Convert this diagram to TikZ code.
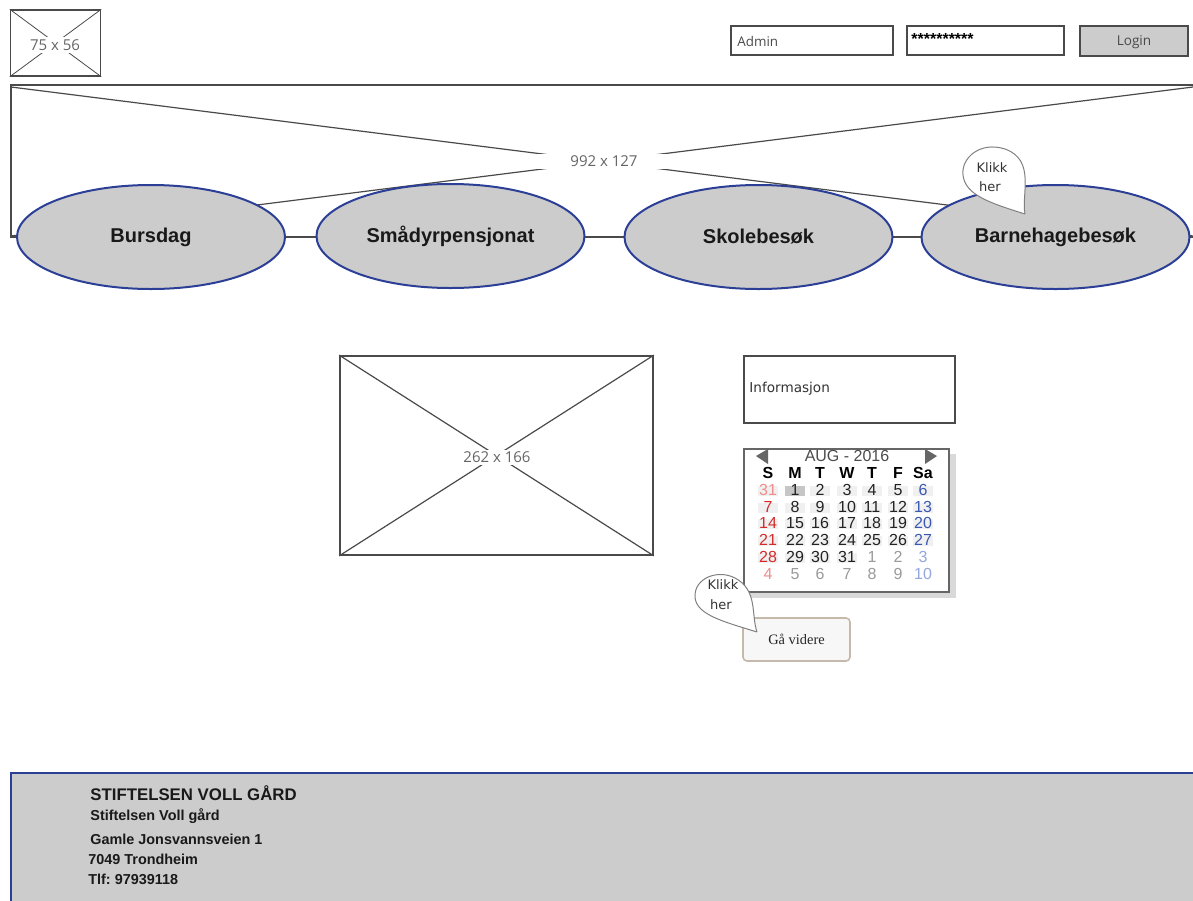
\documentclass[tikz,border=0pt]{standalone}
\usepackage{fontspec}
\setmainfont{Liberation Sans}
\newfontfamily\uifont{Open Sans}
\newfontfamily\handfont{DejaVu Sans}
\newfontfamily\serfont{Liberation Serif}
\usetikzlibrary{shapes.geometric}

\definecolor{wire}{HTML}{4A4A4A}
\definecolor{panel}{HTML}{CCCCCC}
\definecolor{navy}{HTML}{2B3F96}
\definecolor{caltext}{HTML}{222222}
\definecolor{calred}{HTML}{D42A2A}
\definecolor{calpink}{HTML}{EF8C8C}
\definecolor{calblue}{HTML}{3A58B0}
\definecolor{calpale}{HTML}{93A8DE}
\definecolor{calgray}{HTML}{9A9A9A}
\definecolor{btnedge}{HTML}{C4B9AA}

\newcommand\fsz[1]{\fontsize{#1}{#1}\selectfont}
\frenchspacing

\begin{document}
\begin{tikzpicture}[x=0.5pt,y=-0.5pt,
  box/.style={draw=wire, line width=0.7pt, fill=white, inner sep=0pt},
  ph/.style={font=\uifont\fsz{7.5}, text=wire!85, fill=white, inner sep=1pt},
  oval/.style={ellipse, draw=navy, line width=1pt, fill=panel, inner sep=0pt,
    minimum width=134pt, minimum height=52pt, font=\bfseries\fsz{10}, text=black!90},
  bubble/.style={draw=wire!70, line width=0.5pt, fill=white},
  hand/.style={font=\handfont\fsz{6.5}, text=black!80, inner sep=0pt},
  day/.style={font=\fsz{8}, inner sep=0pt},
  dayhead/.style={font=\bfseries\fsz{8}, text=black, inner sep=0pt},
  foot/.style={anchor=west, inner sep=0pt, font=\bfseries\fsz{7.2}, text=black!90},
  cellbg/.style={fill=gray!12}
]
\useasboundingbox (0,0) rectangle (1193,900);

% ---- header: logo and login ----
\node[box, minimum width=45pt, minimum height=33pt] (logo) at (55.5,43) {};
\draw[wire] (logo.north west) -- (logo.south east);
\draw[wire] (logo.south west) -- (logo.north east);
\node[ph] (logotxt) at (55,45) {75 x 56};

\node[box, minimum width=81pt, minimum height=14.5pt] (user) at (812,40.5) {};
\node[anchor=west, inner sep=0pt, font=\uifont\fsz{6.7}, text=wire] (usertxt) at (737,41) {Admin};
\node[box, minimum width=78.5pt, minimum height=14.5pt] (pass) at (985.5,40.5) {};
\node[anchor=west, inner sep=0pt, font=\bfseries\fsz{8}, text=black] (passtxt) at (911,39) {**********};
\node[box, fill=panel, minimum width=54pt, minimum height=15pt] (login) at (1134,41) {};
\node[inner sep=0pt, font=\uifont\fsz{6.8}, text=wire] (logintxt) at (1134,42.5) {Login};

% ---- banner placeholder ----
\draw[wire, line width=0.7pt] (11,85) rectangle (1210,237);
\draw[wire, line width=0.6pt] (11,87) -- (1193,236);
\draw[wire, line width=0.6pt] (11,236) -- (1193,87);
\node[ph, inner xsep=18pt] (bannertxt) at (604,161) {992 x 127};

% ---- menu ovals ----
\node[oval] (bursdag) at (151,237) {Bursdag};
\node[oval] (smadyr) at (450.5,236) {Smådyrpensjonat};
\node[oval] (skole) at (758.5,237) {Skolebesøk};
\node[oval] (barnehage) at (1055.5,237) {Barnehagebesøk};

% speech bubble on the last oval
\draw[bubble] (1025,214) .. controls (1021,195) and (1036,160) .. (1005,149)
  .. controls (980,141) and (961,158) .. (963,175)
  .. controls (965,195) and (990,203) .. (1025,214);
\node[hand] (klikk1a) at (992,168) {Klikk};
\node[hand] (klikk1b) at (990,187) {her};

% ---- main image placeholder ----
\node[box, line width=0.9pt, minimum width=156.5pt, minimum height=99.5pt] (hero) at (496.5,455.5) {};
\draw[wire, line width=0.6pt] (hero.north west) -- (hero.south east);
\draw[wire, line width=0.6pt] (hero.south west) -- (hero.north east);
\node[ph] (herotxt) at (497,457) {262 x 166};

% ---- information box ----
\node[box, minimum width=105.5pt, minimum height=33.5pt] (info) at (849.5,389.5) {};
\node[anchor=west, inner sep=0pt, font=\handfont\fsz{6.8}, text=black!80] (infotxt) at (749,389) {Informasjon};

% ---- calendar ----
\fill[gray!30] (750,454) rectangle (956,598);
\node[draw=black!60, line width=1pt, fill=white, inner sep=0pt,
  minimum width=102.5pt, minimum height=71.5pt] (cal) at (846.5,520.5) {};
\fill[black!60] (756,456) -- (768,449) -- (768,464) -- cycle;
\fill[black!60] (937,456) -- (925,449) -- (925,464) -- cycle;
\node[font=\fsz{8}, text=black!70, inner sep=0pt] (calhead) at (847,456) {AUG - 2016};

\foreach \x/\d [count=\i] in {768/S,795/M,820/T,847/W,872/T,898/F,923/Sa}
  \node[dayhead] (wd\i) at (\x,473) {\d};

% date cell backgrounds
\foreach \y in {490,507,523,540}
  \foreach \x in {768,795,820,847,872,898,923}
    \fill[cellbg] (\x-10,\y-4) rectangle (\x+10,\y+6);
\foreach \x in {768,795,820,847}
  \fill[cellbg] (\x-10,553) rectangle (\x+10,563);
\fill[gray!45] (785,486) rectangle (805,496);

\foreach \x/\d/\c [count=\i] in {768/31/calpink,795/1/caltext,820/2/caltext,847/3/caltext,872/4/caltext,898/5/caltext,923/6/calblue}
  \node[day, text=\c] (ra\i) at (\x,490) {\d};
\foreach \x/\d/\c [count=\i] in {768/7/calred,795/8/caltext,820/9/caltext,847/10/caltext,872/11/caltext,898/12/caltext,923/13/calblue}
  \node[day, text=\c] (rb\i) at (\x,507) {\d};
\foreach \x/\d/\c [count=\i] in {768/14/calred,795/15/caltext,820/16/caltext,847/17/caltext,872/18/caltext,898/19/caltext,923/20/calblue}
  \node[day, text=\c] (rc\i) at (\x,523) {\d};
\foreach \x/\d/\c [count=\i] in {768/21/calred,795/22/caltext,820/23/caltext,847/24/caltext,872/25/caltext,898/26/caltext,923/27/calblue}
  \node[day, text=\c] (rd\i) at (\x,540) {\d};
\foreach \x/\d/\c [count=\i] in {768/28/calred,795/29/caltext,820/30/caltext,847/31/caltext,872/1/calgray,898/2/calgray,923/3/calpale}
  \node[day, text=\c] (re\i) at (\x,557) {\d};
\foreach \x/\d/\c [count=\i] in {768/4/calpink,795/5/calgray,820/6/calgray,847/7/calgray,872/8/calgray,898/9/calgray,923/10/calpale}
  \node[day, text=\c] (rf\i) at (\x,574) {\d};

% ---- continue button with speech bubble ----
\node[draw=btnedge, line width=0.8pt, fill=gray!6, rounded corners=2pt, inner sep=0pt,
  minimum width=53.5pt, minimum height=21.5pt, font=\serfont\fsz{7.2}, text=black!85] (go) at (796.5,639.5) {Gå videre};
\draw[bubble] (757,632) .. controls (751,615) and (758,590) .. (735,578)
  .. controls (718,569) and (694,578) .. (695,597)
  .. controls (696,615) and (725,622) .. (757,632);
\node[hand] (klikk2a) at (723,585) {Klikk};
\node[hand] (klikk2b) at (721,605) {her};

% ---- footer ----
\fill[panel] (11,773) rectangle (1210,910);
\draw[navy, line width=1pt] (11,910) -- (11,773) -- (1210,773);
\node[foot, font=\bfseries\fsz{8.4}] (org) at (90,793) {STIFTELSEN VOLL GÅRD};
\node[foot] (name) at (90,816) {Stiftelsen Voll gård};
\node[foot] (street) at (90,839) {Gamle Jonsvannsveien 1};
\node[foot] (city) at (88,859) {7049 Trondheim};
\node[foot] (phone) at (88,879) {Tlf: 97939118};
\end{tikzpicture}
\end{document}
